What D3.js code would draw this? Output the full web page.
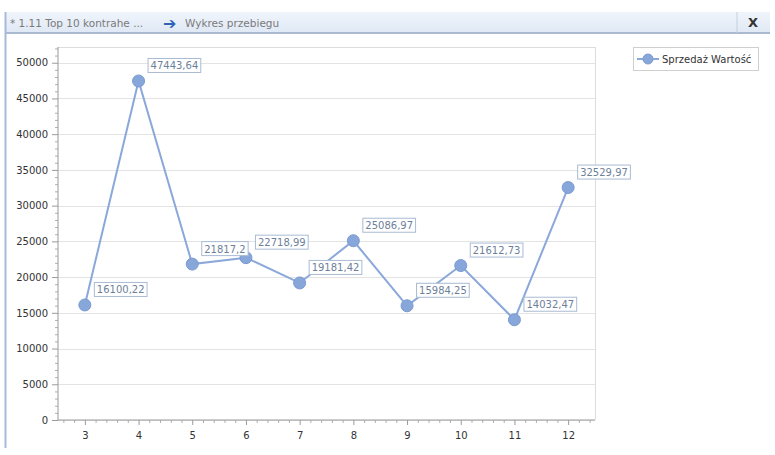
<!DOCTYPE html>
<html>
<head>
<meta charset="utf-8">
<script src="https://cdn.jsdelivr.net/npm/d3@7"></script>
<style>
  html, body { margin: 0; padding: 0; background: #fff; }
  svg { display: block; font-family: "DejaVu Sans", Tahoma, sans-serif; }
</style>
</head>
<body>
<svg id="chart" width="775" height="455"></svg>
<script>
// ---- data ----
const categories = [3, 4, 5, 6, 7, 8, 9, 10, 11, 12];
const salesValues = [16100.22, 47443.64, 21817.2, 22718.99, 19181.42, 25086.97, 15984.25, 21612.73, 14032.47, 32529.97];
const valueLabels = ["16100,22", "47443,64", "21817,2", "22718,99", "19181,42", "25086,97", "15984,25", "21612,73", "14032,47", "32529,97"];
const yTicks = [0, 5000, 10000, 15000, 20000, 25000, 30000, 35000, 40000, 45000, 50000];
const seriesName = "Sprzedaż Wartość";
const titleLeft = "* 1.11 Top 10 kontrahe ...";
const titleRight = "Wykres przebiegu";

const svg = d3.select("#chart");

// ---- window chrome ----
const defs = svg.append("defs");
const grad = defs.append("linearGradient").attr("id", "bar").attr("x1", 0).attr("y1", 0).attr("x2", 0).attr("y2", 1);
grad.append("stop").attr("offset", "0%").attr("stop-color", "#f0f5fb");
grad.append("stop").attr("offset", "100%").attr("stop-color", "#dfe8f5");

svg.append("rect").attr("x", 6).attr("y", 12).attr("width", 764).attr("height", 21).attr("fill", "url(#bar)");
svg.append("line").attr("x1", 6).attr("x2", 770).attr("y1", 33).attr("y2", 33).attr("stroke", "#a9b9cf").attr("stroke-width", 2);
svg.append("line").attr("x1", 5.5).attr("x2", 5.5).attr("y1", 12).attr("y2", 448).attr("stroke", "#a6badc").attr("stroke-width", 2);
svg.append("line").attr("x1", 737).attr("x2", 737).attr("y1", 12).attr("y2", 33).attr("stroke", "#c4cfdd").attr("stroke-width", 1);
svg.append("text").attr("x", 753).attr("y", 27).attr("text-anchor", "middle").attr("font-size", 13).attr("font-weight", "bold").attr("fill", "#333").text("X");

svg.append("text").attr("x", 10).attr("y", 27).attr("font-size", 10.5).attr("fill", "#7a7a7a").text(titleLeft);
svg.append("text").attr("x", 163).attr("y", 28.5).attr("font-size", 16).attr("font-weight", "bold").attr("fill", "#2d62b4").text("➔");
svg.append("text").attr("x", 185).attr("y", 27).attr("font-size", 10.5).attr("fill", "#7a7a7a").text(titleRight);

// ---- scales ----
const L = 58, R = 595, T = 47, B = 420;
const x = d3.scaleLinear().domain([2.5, 12.5]).range([L, R]);
const y = d3.scaleLinear().domain([0, 52200]).range([B, T]);

// grid
svg.append("g").selectAll("line").data(yTicks).join("line")
  .attr("x1", L).attr("x2", R).attr("y1", d => Math.round(y(d)) + 0.5).attr("y2", d => Math.round(y(d)) + 0.5)
  .attr("stroke", "#e3e3e3");
// frame
svg.append("line").attr("x1", L).attr("x2", R).attr("y1", T + 0.5).attr("y2", T + 0.5).attr("stroke", "#dcdcdc");
svg.append("line").attr("x1", R + 0.5).attr("x2", R + 0.5).attr("y1", T).attr("y2", B).attr("stroke", "#dcdcdc");

// minor ticks
const yMinor = d3.range(0, 52001, 1000).filter(v => v % 5000 !== 0);
const xMinor = d3.range(2.6, 12.45, 0.2).map(v => +v.toFixed(1)).filter(v => Math.abs(v - Math.round(v)) > 0.05);

const yMinorAxis = svg.append("g").attr("transform", `translate(${L},0)`)
  .call(d3.axisLeft(y).tickValues(yMinor).tickSize(3).tickFormat(""));
yMinorAxis.select(".domain").remove();
yMinorAxis.selectAll("line").attr("stroke", "#b0b0b0");

const xMinorAxis = svg.append("g").attr("transform", `translate(0,${B})`)
  .call(d3.axisBottom(x).tickValues(xMinor).tickSize(3).tickFormat(""));
xMinorAxis.select(".domain").remove();
xMinorAxis.selectAll("line").attr("stroke", "#b0b0b0");

// major axes
const yAxis = svg.append("g").attr("transform", `translate(${L},0)`)
  .call(d3.axisLeft(y).tickValues(yTicks).tickSize(6).tickPadding(4).tickFormat(d3.format("d")));
yAxis.select(".domain").attr("stroke", "#9a9a9a").attr("d", `M0,${T}V${B}`);
yAxis.selectAll("line").attr("stroke", "#9a9a9a");
yAxis.selectAll("text").attr("font-size", 10).attr("fill", "#333").attr("font-family", "DejaVu Sans, sans-serif");

const xAxis = svg.append("g").attr("transform", `translate(0,${B})`)
  .call(d3.axisBottom(x).tickValues(categories).tickSize(5).tickPadding(7).tickFormat(d3.format("d")));
xAxis.select(".domain").attr("stroke", "#9a9a9a").attr("d", `M${L},0H${R}`);
xAxis.selectAll("line").attr("stroke", "#9a9a9a");
xAxis.selectAll("text").attr("font-size", 10).attr("fill", "#333").attr("font-family", "DejaVu Sans, sans-serif");

// ---- series ----
const pts = categories.map((c, i) => ({ c, v: salesValues[i], lab: valueLabels[i] }));
svg.append("path").datum(pts)
  .attr("d", d3.line().x(d => x(d.c)).y(d => y(d.v)))
  .attr("fill", "none").attr("stroke", "#8aa8da").attr("stroke-width", 2);

svg.append("g").selectAll("circle").data(pts).join("circle")
  .attr("cx", d => x(d.c)).attr("cy", d => y(d.v)).attr("r", 6)
  .attr("fill", "#87a6da").attr("stroke", "#7a9ad0").attr("stroke-width", 1);

// labels
const lg = svg.append("g").selectAll("g").data(pts).join("g")
  .attr("transform", d => `translate(${x(d.c) + 9},${y(d.v) - 8})`);
lg.append("rect").attr("class", "box");
lg.append("text").attr("x", 3).attr("y", -3.5).attr("font-size", 10).attr("fill", "#6e7f99").text(d => d.lab);
lg.each(function () {
  const g = d3.select(this);
  const w = g.select("text").node().getComputedTextLength();
  g.select("rect").attr("x", 0.5).attr("y", -14.5).attr("width", w + 5).attr("height", 14)
    .attr("fill", "#fff").attr("stroke", "#a9bbd3");
});

// ---- legend ----
const leg = svg.append("g");
leg.append("rect").attr("x", 633.5).attr("y", 47.5).attr("width", 125).attr("height", 23)
  .attr("fill", "#fff").attr("stroke", "#cfcfcf");
leg.append("line").attr("x1", 637).attr("x2", 659).attr("y1", 59).attr("y2", 59).attr("stroke", "#8aa8da").attr("stroke-width", 2);
leg.append("circle").attr("cx", 648).attr("cy", 59).attr("r", 5).attr("fill", "#87a6da").attr("stroke", "#7a9ad0");
leg.append("text").attr("x", 662).attr("y", 63).attr("font-size", 10).attr("fill", "#333").text(seriesName);
</script>
</body>
</html>
